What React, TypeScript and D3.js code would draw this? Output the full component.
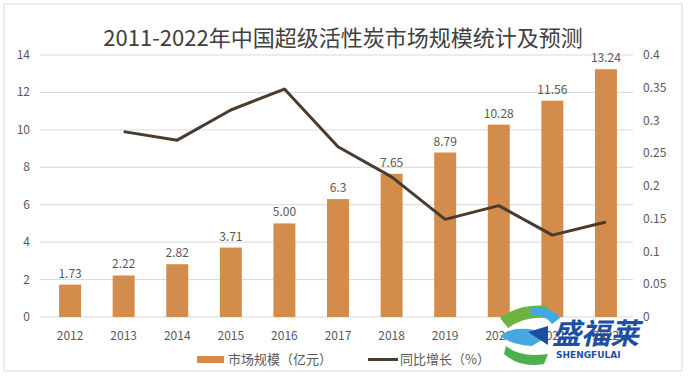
import React from "react";
import * as d3 from "d3";

const years = ["2012","2013","2014","2015","2016","2017","2018","2019","2020","2021","2022"];
const marketSize = [1.73, 2.22, 2.82, 3.71, 5.0, 6.3, 7.65, 8.79, 10.28, 11.56, 13.24];
const sizeLabels = ["1.73","2.22","2.82","3.71","5.00","6.3","7.65","8.79","10.28","11.56","13.24"];
const growth: (number | null)[] = [null, 0.283, 0.27, 0.316, 0.348, 0.26, 0.214, 0.149, 0.17, 0.125, 0.145];
const leftTicks = [0, 2, 4, 6, 8, 10, 12, 14];
const rightTicks = [0, 0.05, 0.1, 0.15, 0.2, 0.25, 0.3, 0.35, 0.4];
const rightTickLabels = ["0","0.05","0.1","0.15","0.2","0.25","0.3","0.35","0.4"];

const W = 688, H = 380;
const FONT = "'Noto Sans CJK SC', 'Noto Sans', sans-serif";

export default function App() {
  const left = 43, right = 633, top = 55, bottom = 317;
  const x = d3.scaleBand<string>().domain(years).range([left, right]).paddingInner(0.59).paddingOuter(0.3);
  const yL = d3.scaleLinear().domain([0, 14]).range([bottom, top]);
  const yR = d3.scaleLinear().domain([0, 0.4]).range([bottom, top]);
  const pts = years.map((y, i) => ({ y, v: growth[i] })).filter(d => d.v !== null) as { y: string; v: number }[];
  const line = d3.line<{ y: string; v: number }>()
    .x(d => (x(d.y) as number) + x.bandwidth() / 2)
    .y(d => yR(d.v));
  const barColor = "#D48C4C";
  const lineColor = "#4A3B2F";
  const txt = "#595959";
  return (
    <svg width={W} height={H} style={{ position: "absolute", left: 0, top: 0, background: "#fff" }}>
      <rect x={4} y={4} width={678} height={367} fill="#fff" stroke="#D9D9D9" strokeWidth={1} />
      <text x={343} y={46} textAnchor="middle" fontFamily={FONT} fontSize={22} fill="#404040">
        2011-2022年中国超级活性炭市场规模统计及预测
      </text>
      {leftTicks.map(t => (
        <g key={"g" + t}>
          <line x1={40} x2={633} y1={yL(t)} y2={yL(t)} stroke="#D9D9D9" strokeWidth={1} />
          <text x={30} y={yL(t) + 4} textAnchor="end" fontFamily={FONT} fontSize={12} fill={txt}>{t}</text>
        </g>
      ))}
      {rightTicks.map((t, i) => (
        <text key={"r" + t} x={643} y={yR(t) + 4} textAnchor="start" fontFamily={FONT} fontSize={12} fill={txt}>
          {rightTickLabels[i]}
        </text>
      ))}
      {years.map((yr, i) => (
        <g key={yr}>
          <rect x={x(yr)} y={yL(marketSize[i])} width={x.bandwidth()} height={bottom - yL(marketSize[i])} fill={barColor} />
          <text x={(x(yr) as number) + x.bandwidth() / 2} y={yL(marketSize[i]) - 7} textAnchor="middle" fontFamily={FONT} fontSize={12} fill={txt}>
            {sizeLabels[i]}
          </text>
          <text x={(x(yr) as number) + x.bandwidth() / 2} y={340} textAnchor="middle" fontFamily={FONT} fontSize={12} fill={txt}>
            {yr}
          </text>
        </g>
      ))}
      <path d={line(pts) || ""} fill="none" stroke={lineColor} strokeWidth={3} strokeLinejoin="round" />
      <rect x={197} y={356} width={27} height={7} fill={barColor} />
      <text x={228} y={364} fontFamily={FONT} fontSize={13} fill={txt}>市场规模（亿元）</text>
      <line x1={368} x2={398} y1={359.5} y2={359.5} stroke={lineColor} strokeWidth={3} />
      <text x={400} y={364} fontFamily={FONT} fontSize={13} fill={txt}>同比增长（%）</text>
      <g>
        <path d="M 500 318 Q 520 303 548 306 L 545 318 Q 525 316 508 328 Z" fill="#6DB33F" />
        <path d="M 530 307 Q 552 306 560 318 L 552 324 Q 545 314 532 316 Z" fill="#3FA9E0" />
        <path d="M 500 336 Q 512 326 535 330 L 548 336 L 532 346 Q 512 345 500 336 Z" fill="#47A8E0" />
        <path d="M 528 332 L 548 326 L 548 345 Z" fill="#1B4FA0" />
        <path d="M 506 346 Q 520 358 548 354 L 544 364 Q 520 368 504 354 Z" fill="#4CAF50" />
        <text x={552} y={344} fontFamily={FONT} fontSize={29} fontWeight="bold" fontStyle="italic" fill="#1E4FA3">盛福莱</text>
        <text x={556} y={358} fontFamily="'DejaVu Sans', sans-serif" fontSize={9} fontWeight="bold" fill="#1E4FA3">SHENGFULAI</text>
      </g>
    </svg>
  );
}
